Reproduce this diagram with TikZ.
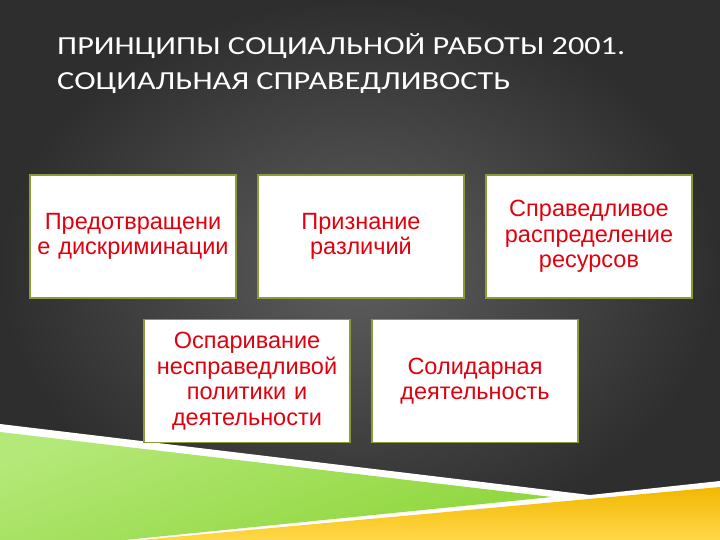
\documentclass[tikz,border=0pt]{standalone}
\usepackage{fontspec}
\setmainfont{Liberation Sans}
\newfontfamily\titlefont[FakeStretch=1.24]{Carlito}
\definecolor{bgdark}{HTML}{2E2E2E}
\definecolor{bglight}{HTML}{5E5E5E}
\definecolor{boxred}{HTML}{E0000E}
\definecolor{boxedge}{HTML}{8C9A3C}
\definecolor{greenA}{HTML}{8ED63A}
\definecolor{greenB}{HTML}{B4E878}
\definecolor{yellowA}{HTML}{F2B800}
\definecolor{yellowB}{HTML}{FFD84A}
\tikzset{
  pbox/.style={draw=boxedge, line width=1.6pt, fill=white, minimum width=206pt, minimum height=123pt,
    text width=204pt, align=center, inner sep=0pt, text=boxred,
    font=\fontsize{23.5}{25.5}\selectfont},
  ttl/.style={anchor=base west, text=white, inner sep=0pt, font=\titlefont\fontsize{26}{30}\selectfont}
}
\begin{document}
\begin{tikzpicture}[x=1pt,y=-1pt]
\useasboundingbox (0,0) rectangle (720,540);
\shade[inner color=bglight, outer color=bgdark] (0,0) rectangle (720,540);
% bottom decoration
\fill[white] (0,424) -- (590,495) -- (720,481) -- (720,540) -- (0,540) -- cycle;
\shade[top color=greenB, bottom color=greenA, shading angle=20] (0,432) -- (552,497) -- (125,540) -- (0,540) -- cycle;
\shade[top color=yellowA, bottom color=yellowB] (140,540) -- (720,487) -- (720,540) -- cycle;
% title
\node[ttl] (t1) at (57,55) {ПРИНЦИПЫ СОЦИАЛЬНОЙ РАБОТЫ 2001.};
\node[ttl] (t2) at (57,90) {СОЦИАЛЬНАЯ СПРАВЕДЛИВОСТЬ};
% boxes
\node[pbox] (b1) at (133,236.5) {Предотвращени\\е дискриминации};
\node[pbox] (b2) at (361,236.5) {Признание\\различий};
\node[pbox] (b3) at (589,236.5) {Справедливое\\распределение\\ресурсов};
\node[pbox] (b4) at (247,381) {Оспаривание\\несправедливой\\политики и\\деятельности};
\node[pbox] (b5) at (475,381) {Солидарная\\деятельность};
\end{tikzpicture}
\end{document}
